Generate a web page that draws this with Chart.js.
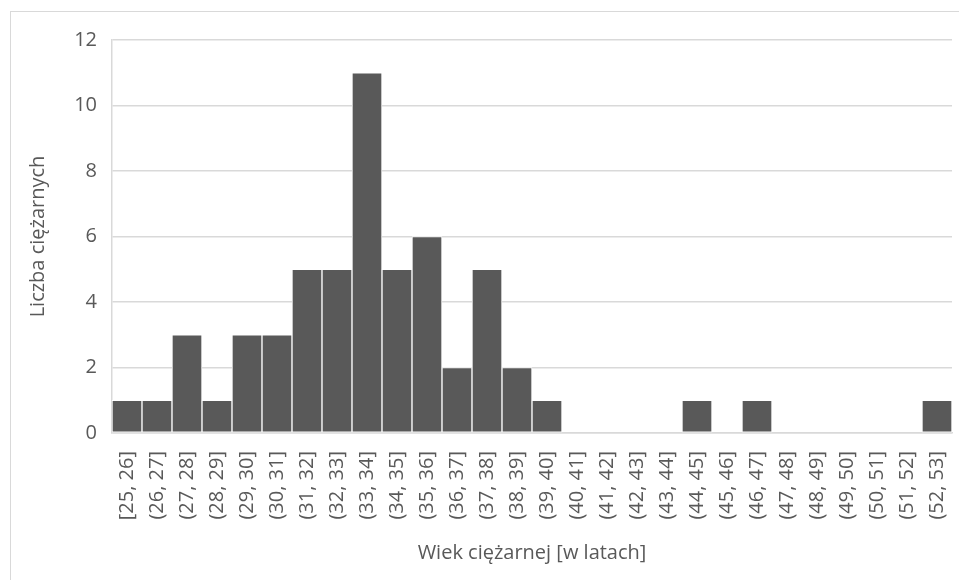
<!DOCTYPE html>
<html lang="pl">
<head>
<meta charset="utf-8">
<title>Wiek ciężarnych – histogram</title>
<script src="https://cdn.jsdelivr.net/npm/chart.js@4/dist/chart.umd.min.js"></script>
<style>
  html, body { margin: 0; padding: 0; background: #fff; }
  #wrap { position: relative; width: 959px; height: 580px; overflow: hidden; }
  #frame { position: absolute; left: 10px; top: 11px; width: 1000px; height: 1000px;
           border: 1px solid #d9d9d9; box-sizing: border-box; pointer-events: none; }
  canvas { position: absolute; left: 0; top: 0; }
</style>
</head>
<body>
<div id="wrap">
  <div id="frame"></div>
  <canvas id="chart" width="959" height="580"></canvas>
</div>
<script>
// Age intervals (years)
const ageBins = [
  '[25, 26]', '(26, 27]', '(27, 28]', '(28, 29]', '(29, 30]', '(30, 31]', '(31, 32]',
  '(32, 33]', '(33, 34]', '(34, 35]', '(35, 36]', '(36, 37]', '(37, 38]', '(38, 39]',
  '(39, 40]', '(40, 41]', '(41, 42]', '(42, 43]', '(43, 44]', '(44, 45]', '(45, 46]',
  '(46, 47]', '(47, 48]', '(48, 49]', '(49, 50]', '(50, 51]', '(51, 52]', '(52, 53]'
];
// Number of pregnant women per interval
const counts = [1, 1, 3, 1, 3, 3, 5, 5, 11, 5, 6, 2, 5, 2, 1, 0, 0, 0, 0, 1, 0, 1, 0, 0, 0, 0, 0, 1];
// Y axis range
const yTicks = [0, 2, 4, 6, 8, 10, 12];

const FONT = "'Open Sans', 'Liberation Sans', sans-serif";
const TEXT = '#595959';
const GRID = '#d9d9d9';

new Chart(document.getElementById('chart'), {
  type: 'bar',
  data: {
    labels: ageBins,
    datasets: [{
      data: counts,
      backgroundColor: '#595959',
      borderColor: '#ffffff',
      borderWidth: 1,
      borderSkipped: false,
      barPercentage: 1,
      categoryPercentage: 1
    }]
  },
  options: {
    responsive: false,
    animation: false,
    layout: { padding: { left: 22, top: 40, right: 7, bottom: 8 } },
    plugins: { legend: { display: false }, tooltip: { enabled: false } },
    scales: {
      x: {
        grid: { display: false, drawTicks: false },
        border: { display: true, color: GRID, width: 1.5 },
        ticks: {
          color: TEXT, font: { family: FONT, size: 20 },
          minRotation: 90, maxRotation: 90, padding: 18, autoSkip: false
        },
        title: {
          display: true, text: 'Wiek ciężarnej [w latach]',
          color: TEXT, font: { family: FONT, size: 20 }, padding: { top: 0, bottom: 7 }
        },
        afterFit: s => { s.height = 139; s.paddingLeft = 0; s.paddingRight = 0; }
      },
      y: {
        min: yTicks[0], max: yTicks[yTicks.length - 1],
        grid: { color: GRID, lineWidth: 1.5, drawTicks: false },
        border: { display: true, color: GRID, width: 1.5 },
        afterBuildTicks: s => { s.ticks = yTicks.map(v => ({ value: v })); },
        ticks: { color: TEXT, font: { family: FONT, size: 20 }, padding: 15 },
        title: {
          display: true, text: 'Liczba ciężarnych',
          color: TEXT, font: { family: FONT, size: 20 }, padding: { top: 4, bottom: 0 }
        },
        afterFit: s => { s.width = 90; s.paddingTop = 0; s.paddingBottom = 0; }
      }
    }
  }
});
</script>
</body>
</html>
